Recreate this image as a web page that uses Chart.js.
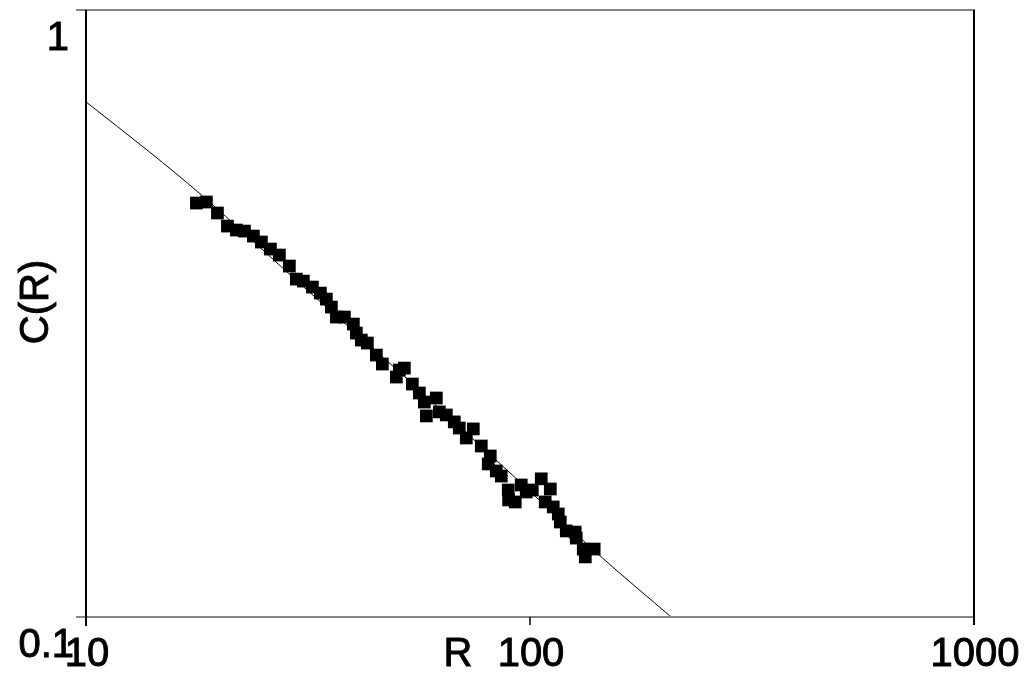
<!DOCTYPE html>
<html>
<head>
<meta charset="utf-8">
<script src="https://cdn.jsdelivr.net/npm/chart.js@4/dist/chart.umd.min.js"></script>
<style>
  html, body { margin: 0; padding: 0; background: #ffffff; }
  #wrap { width: 1029px; height: 673px; position: relative; }
</style>
</head>
<body>
<div id="wrap"><canvas id="c"></canvas></div>
<script>
// Measured points C(R)
const rValues = [17.73,18.67,19.77,20.82,21.82,22.74,23.82,24.83,26.02,27.26,
  28.71,29.77,30.87,32.35,33.72,34.78,35.70,36.64,38.19,40.01,
  40.64,41.70,43.02,45.07,46.50,50.00,50.79,52.12,54.33,56.33,
  57.81,58.42,61.52,62.48,64.79,67.53,69.30,71.86,74.52,77.67,
  80.54,81.38,83.95,86.15,89.33,89.5,92.63,95.56,98.07,101.2,
  106.0,108.2,111.1,112.8,115.8,117.0,120.7,126.4,127.1,131.8,
  133.2,139.5];
const cValues = [0.4808,0.4827,0.4630,0.4406,0.4340,0.4323,0.4242,0.4147,0.4038,0.3947,
  0.3786,0.3603,0.3576,0.3496,0.3417,0.3340,0.3240,0.3120,0.3120,0.3038,
  0.2936,0.2859,0.2827,0.2701,0.2611,0.2485,0.2552,0.2571,0.2420,0.2339,
  0.2260,0.2144,0.2295,0.2177,0.2152,0.2096,0.2048,0.1972,0.2041,0.1913,
  0.1787,0.1842,0.1740,0.1707,0.1619,0.1559,0.1547,0.1650,0.1607,0.1619,
  0.1689,0.1547,0.1625,0.1518,0.1478,0.1434,0.1386,0.1380,0.1349,0.1294,
  0.1256,0.1294];

// Fitted curve
const fitR = [10, 13.9, 18.2, 30.24, 50.79, 85.25, 144.7, 207.9];
const fitC = [0.7056, 0.5836, 0.4957, 0.3549, 0.2533, 0.1794, 0.1256, 0.1];

// Axis ticks
const xTicks = [10, 100, 1000];
const xTickLabels = ['10', '100', '1000'];
const yTicks = [0.1, 1];
const yTickLabels = ['0.1', '1'];
const xTitle = 'R';
const yTitle = 'C(R)';

const FONT = '40px "Liberation Sans", Arial, sans-serif';

function boldText(ctx, s, x, y) {
  ctx.fillText(s, x, y);
  ctx.strokeText(s, x, y);
}

const framePlugin = {
  id: 'frame',
  afterDraw(chart) {
    const ctx = chart.ctx;
    const a = chart.chartArea;
    const xs = chart.scales.x, ys = chart.scales.y;
    ctx.save();
    // horizontal lines (gray)
    ctx.strokeStyle = '#858585';
    ctx.lineWidth = 2;
    yTicks.forEach(v => {
      const y = Math.round(ys.getPixelForValue(v));
      ctx.beginPath();
      ctx.moveTo(a.left - 10, y);
      ctx.lineTo(a.right + 1, y);
      ctx.stroke();
    });
    // vertical lines (black)
    ctx.strokeStyle = '#000000';
    ctx.lineWidth = 2;
    const xl = Math.round(xs.getPixelForValue(xTicks[0]));
    const xr = Math.round(xs.getPixelForValue(xTicks[2]));
    ctx.beginPath();
    ctx.moveTo(xl, a.top); ctx.lineTo(xl, a.bottom + 9);
    ctx.moveTo(xr, a.top); ctx.lineTo(xr, a.bottom + 8);
    ctx.stroke();
    ctx.lineWidth = 1.5;
    const xm = Math.round(xs.getPixelForValue(xTicks[1]));
    ctx.beginPath();
    ctx.moveTo(xm, a.bottom); ctx.lineTo(xm, a.bottom + 8);
    ctx.stroke();

    // labels
    ctx.fillStyle = '#000000';
    ctx.strokeStyle = '#000000';
    ctx.lineWidth = 0.9;
    ctx.font = FONT;
    ctx.textBaseline = 'alphabetic';
    ctx.textAlign = 'center';
    xTicks.forEach((v, i) => {
      boldText(ctx, xTickLabels[i], xs.getPixelForValue(v) + 1, a.bottom + 49);
    });
    ctx.textAlign = 'right';
    const yLabelRight = [a.left - 12, a.left - 17];
    yTicks.forEach((v, i) => {
      boldText(ctx, yTickLabels[i], yLabelRight[i], ys.getPixelForValue(v) + 40);
    });
    ctx.textAlign = 'center';
    boldText(ctx, xTitle, 458, a.bottom + 49);
    ctx.save();
    ctx.translate(48, 302);
    ctx.rotate(-Math.PI / 2);
    boldText(ctx, yTitle, 0, 0);
    ctx.restore();
    ctx.restore();
  }
};

new Chart(document.getElementById('c'), {
  type: 'scatter',
  data: {
    datasets: [
      {
        label: 'data',
        data: rValues.map((r, i) => ({ x: r, y: cValues[i] })),
        pointStyle: 'rect',
        pointRadius: 9,
        pointBackgroundColor: '#000000',
        pointBorderWidth: 0,
        showLine: false,
        order: 0
      },
      {
        label: 'fit',
        data: fitR.map((r, i) => ({ x: r, y: fitC[i] })),
        showLine: true,
        borderColor: '#000000',
        borderWidth: 1,
        pointRadius: 0,
        cubicInterpolationMode: 'monotone',
        order: 1
      }
    ]
  },
  options: {
    responsive: true,
    maintainAspectRatio: false,
    animation: false,
    layout: { padding: { left: 86, right: 55, top: 10, bottom: 56 } },
    plugins: { legend: { display: false }, tooltip: { enabled: false } },
    scales: {
      x: { type: 'logarithmic', min: 10, max: 1000, display: false },
      y: { type: 'logarithmic', min: 0.1, max: 1, display: false }
    }
  },
  plugins: [framePlugin]
});
</script>
</body>
</html>
